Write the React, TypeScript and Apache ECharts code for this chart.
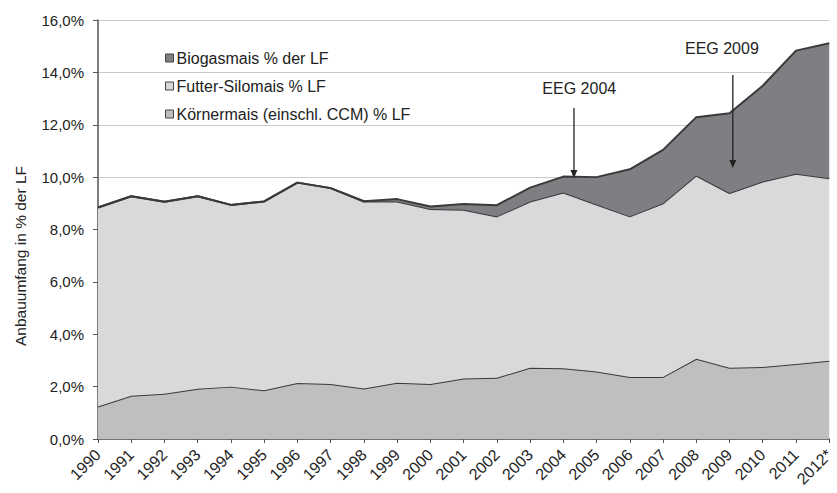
import React, { useEffect, useRef } from "react";
import * as echarts from "echarts";

const years = ["1990","1991","1992","1993","1994","1995","1996","1997","1998","1999","2000","2001","2002","2003","2004","2005","2006","2007","2008","2009","2010","2011","2012*"];
const koernermais = [1.24,1.65,1.73,1.92,2.0,1.86,2.14,2.1,1.93,2.15,2.1,2.31,2.34,2.72,2.7,2.58,2.37,2.37,3.06,2.72,2.75,2.86,2.99];
const futterSilomais = [7.6,7.62,7.33,7.35,6.94,7.21,7.65,7.48,7.14,6.92,6.68,6.44,6.16,6.35,6.71,6.37,6.13,6.63,7.0,6.67,7.08,7.27,6.97];
const biogasmais = [0,0,0,0,0,0,0,0,0.01,0.09,0.1,0.22,0.43,0.53,0.61,1.05,1.8,2.04,2.23,3.05,3.66,4.7,5.15];
const seriesNames = ["Körnermais (einschl. CCM) % LF", "Futter-Silomais % LF", "Biogasmais % der LF"];
const yTicks = { min: 0, max: 16, interval: 2 };
const annotations = [
  { label: "EEG 2004", xIndex: 14.32, textX: 14.48, textY: 13.37, yTop: 12.64, yTip: 9.97 },
  { label: "EEG 2009", xIndex: 19.1, textX: 18.77, textY: 14.9, yTop: 13.9, yTip: 10.35 },
];

const FONT = "Liberation Sans, Arial, sans-serif";
const fills = ["#bebfc1", "#d8d9db", "#7e7f82"];
const lineColor = "#3a3a3a";

export default function App() {
  const ref = useRef<HTMLDivElement>(null);
  useEffect(() => {
    if (!ref.current) return;
    const chart = echarts.init(ref.current, null, { renderer: "svg" });
    const data = [koernermais, futterSilomais, biogasmais];
    chart.setOption({
      animation: false,
      textStyle: { fontFamily: FONT },
      grid: { left: 98, right: 1, top: 20, bottom: 54, containLabel: false },
      legend: {
        orient: "vertical",
        left: 160,
        top: 45,
        itemGap: 12,
        itemWidth: 8,
        itemHeight: 8,
        icon: "rect",
        textStyle: { fontSize: 16, color: "#222", fontFamily: FONT, padding: [0, 0, 0, -2] },
        itemStyle: { borderColor: "#444", borderWidth: 1 },
        data: [seriesNames[2], seriesNames[1], seriesNames[0]],
      },
      xAxis: {
        type: "category",
        boundaryGap: false,
        data: years,
        axisLine: { lineStyle: { color: "#555", width: 1.5 } },
        axisTick: { show: true, length: 4, lineStyle: { color: "#555" } },
        axisLabel: { rotate: 45, fontSize: 16, color: "#222", margin: 13, interval: 0, fontFamily: FONT },
      },
      yAxis: {
        type: "value",
        min: yTicks.min,
        max: yTicks.max,
        interval: yTicks.interval,
        axisLine: { show: true, lineStyle: { color: "#555", width: 1.5 } },
        axisTick: { show: true, length: 5, lineStyle: { color: "#555" } },
        splitLine: { lineStyle: { color: "#c9c9c9", width: 1 } },
        axisLabel: {
          fontSize: 15,
          color: "#222",
          margin: 14,
          fontFamily: FONT,
          formatter: (v: number) => v.toFixed(1).replace(".", ",") + "%",
        },
      },
      series: seriesNames.map((name, i) => ({
        name,
        type: "line",
        stack: "total",
        data: data[i],
        symbol: "none",
        color: fills[i],
        itemStyle: { color: fills[i] },
        lineStyle: { color: lineColor, width: 2 },
        areaStyle: { color: fills[i], opacity: 1 },
        z: 2 + i,
      })),
    });

    const px = (xi: number, yv: number) => {
      const i0 = Math.floor(xi);
      const i1 = Math.min(i0 + 1, years.length - 1);
      const f = xi - i0;
      const a = chart.convertToPixel({ gridIndex: 0 }, [i0, yv]) as number[];
      const b = chart.convertToPixel({ gridIndex: 0 }, [i1, yv]) as number[];
      return [a[0] + (b[0] - a[0]) * f, a[1]];
    };

    const graphics: any[] = [];
    annotations.forEach((a) => {
      const t = px(a.textX, a.textY);
      const top = px(a.xIndex, a.yTop);
      const tip = px(a.xIndex, a.yTip);
      graphics.push({
        type: "text",
        x: t[0],
        y: t[1],
        z: 10,
        style: { text: a.label, fontSize: 16, fill: "#222", fontFamily: FONT, align: "center", verticalAlign: "middle" },
      });
      graphics.push({
        type: "line",
        z: 10,
        shape: { x1: top[0], y1: top[1], x2: tip[0], y2: tip[1] - 6 },
        style: { stroke: "#222", lineWidth: 1.3 },
      });
      graphics.push({
        type: "polygon",
        z: 10,
        shape: { points: [[tip[0] - 3.5, tip[1] - 8], [tip[0] + 3.5, tip[1] - 8], [tip[0], tip[1]]] },
        style: { fill: "#222" },
      });
    });
    graphics.push({
      type: "text",
      x: 20,
      y: 256,
      rotation: Math.PI / 2,
      z: 10,
      style: { text: "Anbauumfang in % der LF", fontSize: 15.5, fill: "#222", fontFamily: FONT, align: "center", verticalAlign: "middle" },
    });
    chart.setOption({ graphic: graphics });

    return () => chart.dispose();
  }, []);
  return <div ref={ref} style={{ position: "absolute", left: 0, top: 0, width: 837, height: 493 }} />;
}
